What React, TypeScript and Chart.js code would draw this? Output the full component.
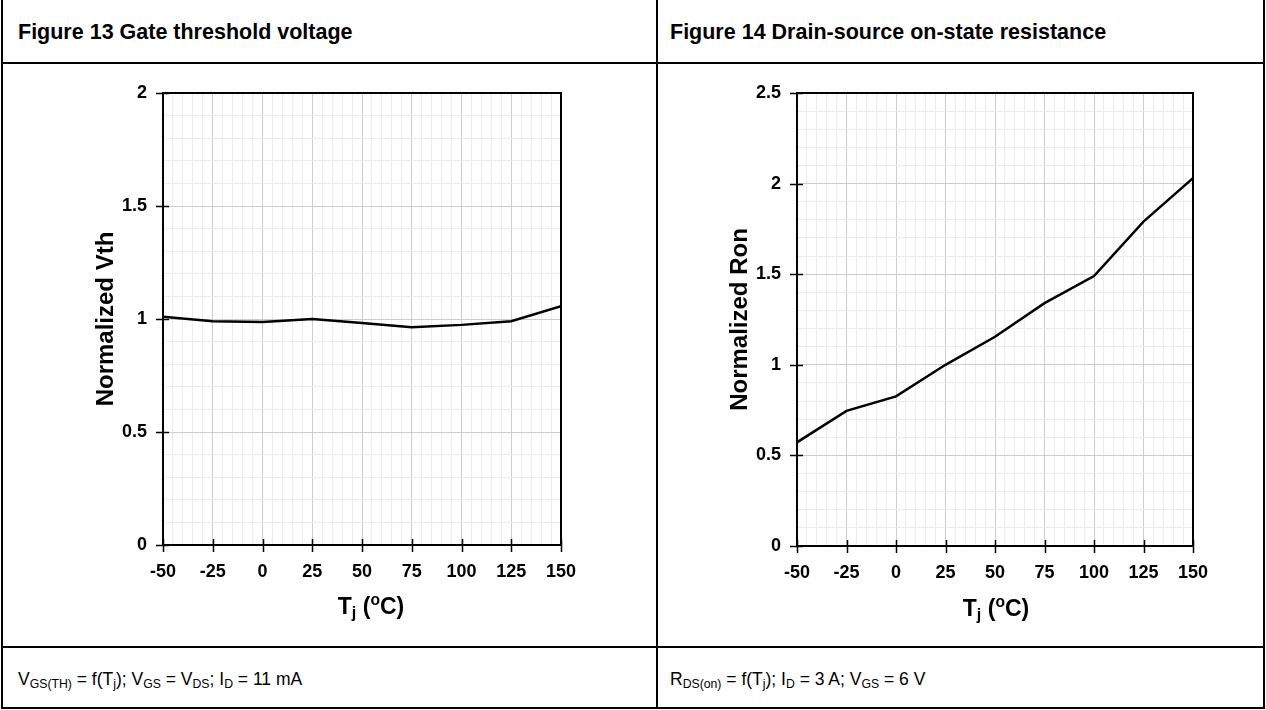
import React, { useEffect, useRef } from 'react';
import { Chart, registerables } from 'chart.js';

Chart.register(...registerables);

// ---- data ----
const temps = [-50, -25, 0, 25, 50, 75, 100, 125, 150];
const vthValues = [1.01, 0.99, 0.987, 1.0, 0.982, 0.963, 0.974, 0.99, 1.057];
const ronValues = [0.572, 0.746, 0.826, 1.0, 1.155, 1.34, 1.49, 1.79, 2.03];
const xMin = -50;
const xMax = 150;
const xMajor = 25;
const xMinor = 5;
const vthMax = 2;
const ronMax = 2.5;
const yMajor = 0.5;
const yMinor = 0.1;

const FONT = '"Liberation Sans", Arial, Helvetica, sans-serif';

function isMajor(v: number, step: number) {
  const r = v / step;
  return Math.abs(r - Math.round(r)) < 1e-6;
}

function fmtY(v: number) {
  return String(Math.round(v * 10) / 10);
}

const crossTicks = {
  id: 'crossTicks',
  afterDraw(chart: any) {
    const { ctx, chartArea: a, scales } = chart;
    const x = scales.x;
    const y = scales.y;
    ctx.save();
    ctx.strokeStyle = '#000';
    ctx.lineWidth = 1.5;
    ctx.beginPath();
    for (let v = xMin; v <= xMax + 1e-9; v += xMajor) {
      const px = Math.round(x.getPixelForValue(v)) + 0.5;
      ctx.moveTo(px, a.bottom - 6);
      ctx.lineTo(px, a.bottom + 7);
    }
    const yMax = y.max;
    const n = Math.round(yMax / yMajor);
    for (let i = 0; i <= n; i++) {
      const py = Math.round(y.getPixelForValue(i * yMajor)) + 0.5;
      ctx.moveTo(a.left - 7, py);
      ctx.lineTo(a.left + 6, py);
    }
    ctx.stroke();
    ctx.lineWidth = 2;
    ctx.strokeRect(a.left, a.top, a.right - a.left, a.bottom - a.top);
    ctx.restore();
  },
};

function makeConfig(values: number[], yMax: number, yTitle: string): any {
  const gridColor = (c: any, step: number) =>
    c.tick && isMajor(c.tick.value, step) ? '#cdcdcd' : '#ececec';
  return {
    type: 'line',
    data: {
      datasets: [
        {
          data: temps.map((t, i) => ({ x: t, y: values[i] })),
          borderColor: '#000',
          borderWidth: 2.5,
          pointRadius: 0,
          tension: 0,
          fill: false,
        },
      ],
    },
    options: {
      animation: false,
      responsive: false,
      maintainAspectRatio: false,
      layout: { padding: { left: 0, right: 40, top: 23, bottom: 0 } },
      plugins: {
        legend: { display: false },
        tooltip: { enabled: false },
        title: { display: false },
      },
      scales: {
        x: {
          type: 'linear',
          min: xMin,
          max: xMax,
          afterFit: (s: any) => {
            s.height = 85;
          },
          ticks: {
            stepSize: xMinor,
            autoSkip: false,
            maxRotation: 0,
            padding: 8,
            color: '#000',
            font: { family: FONT, size: 18, weight: 'bold' },
            callback: (v: any) => (isMajor(Number(v), xMajor) ? String(v) : ''),
          },
          grid: {
            color: (c: any) => gridColor(c, xMajor),
            lineWidth: 1,
            drawTicks: true,
            tickLength: 8,
            tickColor: 'transparent',
          },
          border: { display: false },
        },
        y: {
          type: 'linear',
          min: 0,
          max: yMax,
          afterFit: (s: any) => {
            s.width = 83;
          },
          ticks: {
            stepSize: yMinor,
            autoSkip: false,
            padding: 8,
            color: '#000',
            font: { family: FONT, size: 18, weight: 'bold' },
            callback: (v: any) => (isMajor(Number(v), yMajor) ? fmtY(Number(v)) : ''),
          },
          grid: {
            color: (c: any) => gridColor(c, yMajor),
            lineWidth: 1,
            drawTicks: true,
            tickLength: 8,
            tickColor: 'transparent',
          },
          border: { display: false },
          title: {
            display: true,
            text: yTitle,
            color: '#000',
            font: { family: FONT, size: 24, weight: 'bold' },
            padding: { top: 12, bottom: 0 },
          },
        },
      },
    },
    plugins: [crossTicks],
  };
}

function ChartBox(props: {
  values: number[];
  yMax: number;
  yTitle: string;
  left: number;
  top: number;
  width: number;
  height: number;
}) {
  const ref = useRef<HTMLCanvasElement>(null);
  useEffect(() => {
    if (!ref.current) return;
    const chart = new Chart(ref.current, makeConfig(props.values, props.yMax, props.yTitle));
    return () => chart.destroy();
  }, []);
  return (
    <canvas
      ref={ref}
      width={props.width}
      height={props.height}
      style={{
        position: 'absolute',
        left: props.left,
        top: props.top,
        width: props.width,
        height: props.height,
      }}
    />
  );
}

const subStyle: React.CSSProperties = { fontSize: '0.7em', verticalAlign: '-0.22em', lineHeight: 0 };
const supStyle: React.CSSProperties = { fontSize: '0.68em', verticalAlign: '0.55em', lineHeight: 0 };

function Line(props: { left: number; top: number; width: number; height: number }) {
  return (
    <div
      style={{
        position: 'absolute',
        left: props.left,
        top: props.top,
        width: props.width,
        height: props.height,
        background: '#000',
      }}
    />
  );
}

const titleStyle: React.CSSProperties = {
  position: 'absolute',
  top: 19,
  fontSize: 21.5,
  fontWeight: 'bold',
  lineHeight: '26px',
  whiteSpace: 'nowrap',
};

const axisTitleStyle: React.CSSProperties = {
  position: 'absolute',
  transform: 'translateX(-50%)',
  fontSize: 23,
  fontWeight: 'bold',
  lineHeight: '28px',
  whiteSpace: 'nowrap',
};

const captionStyle: React.CSSProperties = {
  position: 'absolute',
  top: 667,
  fontSize: 17.5,
  lineHeight: '24px',
  whiteSpace: 'nowrap',
};

export default function App() {
  return (
    <div
      style={{
        position: 'absolute',
        left: 0,
        top: 0,
        width: 1266,
        height: 710,
        background: '#fff',
        fontFamily: FONT,
        color: '#000',
        overflow: 'hidden',
      }}
    >
      {/* table lines */}
      <Line left={1} top={0} width={2} height={709} />
      <Line left={1263} top={0} width={2} height={709} />
      <Line left={656} top={0} width={2} height={709} />
      <Line left={1} top={62} width={1264} height={2} />
      <Line left={1} top={646} width={1264} height={2} />
      <Line left={1} top={707} width={1264} height={2} />

      {/* titles */}
      <div style={{ ...titleStyle, left: 18 }}>Figure 13 Gate threshold voltage</div>
      <div style={{ ...titleStyle, left: 670 }}>Figure 14 Drain-source on-state resistance</div>

      {/* charts */}
      <ChartBox values={vthValues} yMax={vthMax} yTitle="Normalized Vth" left={80} top={70} width={521} height={560} />
      <ChartBox values={ronValues} yMax={ronMax} yTitle="Normalized Ron" left={714} top={70} width={519} height={561} />

      {/* x-axis titles */}
      <div style={{ ...axisTitleStyle, left: 371, top: 592 }}>
        T<span style={subStyle}>j</span> (<span style={supStyle}>o</span>C)
      </div>
      <div style={{ ...axisTitleStyle, left: 996, top: 594 }}>
        T<span style={subStyle}>j</span> (<span style={supStyle}>o</span>C)
      </div>

      {/* captions */}
      <div style={{ ...captionStyle, left: 18 }}>
        V<span style={subStyle}>GS(TH)</span> = f(T<span style={subStyle}>j</span>); V<span style={subStyle}>GS</span> = V
        <span style={subStyle}>DS</span>; I<span style={subStyle}>D</span> = 11 mA
      </div>
      <div style={{ ...captionStyle, left: 670 }}>
        R<span style={subStyle}>DS(on)</span> = f(T<span style={subStyle}>j</span>); I<span style={subStyle}>D</span> = 3 A; V
        <span style={subStyle}>GS</span> = 6 V
      </div>
    </div>
  );
}
